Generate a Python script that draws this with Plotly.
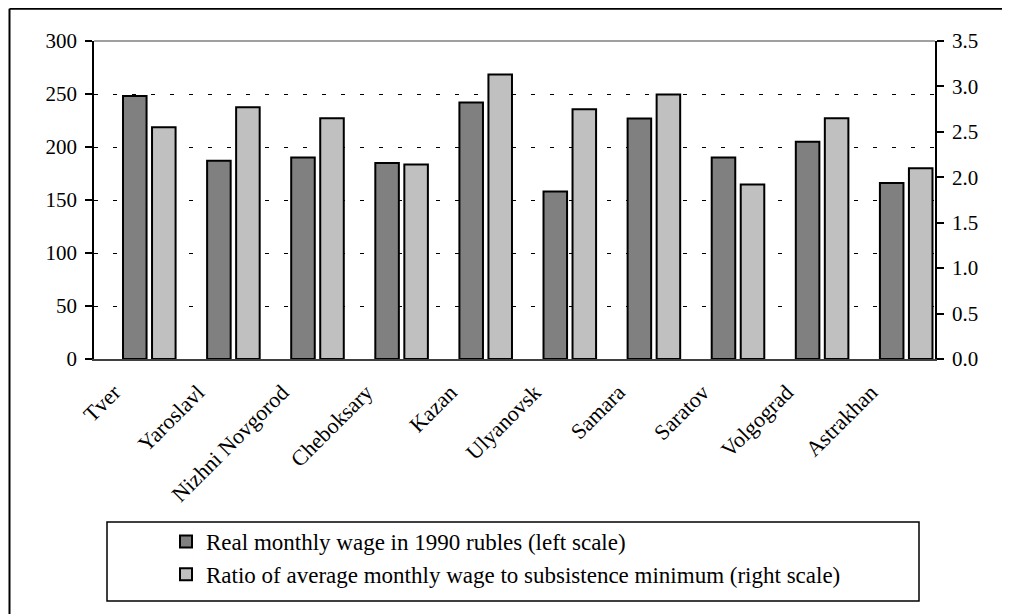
import plotly.graph_objects as go

categories = ["Tver", "Yaroslavl", "Nizhni Novgorod", "Cheboksary", "Kazan",
              "Ulyanovsk", "Samara", "Saratov", "Volgograd", "Astrakhan"]
wage_1990_rubles = [248, 187, 190, 185, 242, 158, 227, 190, 205, 166]
wage_to_subsistence = [2.55, 2.77, 2.65, 2.14, 3.13, 2.75, 2.91, 1.92, 2.65, 2.10]

name_wage = "Real monthly wage in 1990 rubles (left scale)"
name_ratio = "Ratio of average monthly wage to subsistence minimum (right scale)"

# The page shows the figure offset by the default 8px body margin,
# so the figure is sized to fit the window exactly.
OFF = 8
W, H = 1010 - OFF, 614 - OFF
L, R, T, B = 86, 75, 33, 255
PW, PH = W - L - R, H - T - B


def px_x(sx):
    """screen x -> paper x"""
    return (sx - OFF - L) / PW


def px_y(sy):
    """screen y -> paper y"""
    return (H - B - (sy - OFF)) / PH


FONT = "Liberation Serif, Times New Roman, serif"

fig = go.Figure()
fig.add_trace(go.Bar(
    x=categories, y=wage_1990_rubles, name=name_wage,
    marker=dict(color="#808080", line=dict(color="black", width=2)),
    width=0.28, offset=-0.155, yaxis="y", legendgroup="a",
))
fig.add_trace(go.Bar(
    x=categories, y=wage_to_subsistence, name=name_ratio,
    marker=dict(color="#c0c0c0", line=dict(color="black", width=2)),
    width=0.28, offset=0.19, yaxis="y2", legendgroup="b",
))

fig.update_layout(
    width=W, height=H,
    margin=dict(l=L, r=R, t=T, b=B, autoexpand=False),
    paper_bgcolor="white", plot_bgcolor="white",
    font=dict(family=FONT, size=21, color="black"),
    barmode="overlay",
    showlegend=True,
    legend=dict(
        x=px_x(166), y=px_y(520), xanchor="left", yanchor="top",
        bgcolor="rgba(0,0,0,0)", borderwidth=0,
        font=dict(family=FONT, size=23, color="black"),
        tracegroupgap=21, traceorder="normal",
    ),
    xaxis=dict(
        type="category", range=[-0.5, 9.5],
        showline=True, linecolor="#404040", linewidth=1.5,
        ticks="", tickangle=-45, showgrid=False, zeroline=False,
        ticklabelshift=-22, ticklabelstandoff=10,
        tickfont=dict(family=FONT, size=22, color="black"),
    ),
    yaxis=dict(
        range=[0, 300], dtick=50, tick0=0,
        showline=True, linecolor="black", linewidth=1.5,
        ticks="outside", ticklen=7, tickcolor="black", tickwidth=1.5,
        showgrid=True, gridcolor="black", gridwidth=1, griddash="4px,15px",
        zeroline=False, ticklabelstandoff=4,
        tickfont=dict(family=FONT, size=21, color="black"),
    ),
    yaxis2=dict(
        range=[0, 3.5], dtick=0.5, tick0=0, tickformat=".1f",
        overlaying="y", side="right",
        showline=True, linecolor="black", linewidth=1.5,
        ticks="outside", ticklen=7, tickcolor="black", tickwidth=1.5,
        showgrid=False, zeroline=False, ticklabelstandoff=4,
        tickfont=dict(family=FONT, size=21, color="black"),
    ),
    shapes=[
        # top border of plot area
        dict(type="line", xref="paper", yref="paper", x0=0, x1=1, y0=1, y1=1,
             line=dict(color="#808080", width=1.5), layer="below"),
        # outer chart border (left and top edges are inside the picture)
        dict(type="line", xref="paper", yref="paper",
             x0=px_x(9.5), x1=px_x(9.5), y0=px_y(630), y1=px_y(8.7),
             line=dict(color="black", width=2), layer="above"),
        dict(type="line", xref="paper", yref="paper",
             x0=px_x(9.5), x1=px_x(1030), y0=px_y(8.7), y1=px_y(8.7),
             line=dict(color="black", width=2), layer="above"),
        # legend box
        dict(type="rect", xref="paper", yref="paper",
             x0=px_x(107), x1=px_x(919), y0=px_y(601), y1=px_y(522),
             line=dict(color="black", width=1.5), layer="above"),
    ],
)

fig.write_html("out.html")
